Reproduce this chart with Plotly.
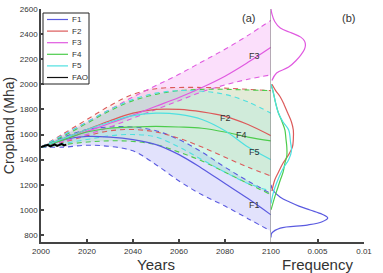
import plotly.graph_objects as go

# ---------------- data ----------------
years = [2000, 2010, 2020, 2030, 2040, 2050, 2060, 2070, 2080, 2090, 2100]

scenarios = ["F1", "F2", "F3", "F4", "F5"]

f1_mid = [1500, 1560, 1585, 1580, 1560, 1520, 1440, 1330, 1210, 1090, 960]
f1_up = [1500, 1580, 1640, 1660, 1660, 1630, 1560, 1460, 1340, 1230, 1130]
f1_lo = [1500, 1500, 1515, 1505, 1470, 1360, 1230, 1120, 1030, 930, 830]

f2_mid = [1500, 1570, 1640, 1710, 1770, 1800, 1800, 1780, 1745, 1680, 1590]
f2_up = [1500, 1610, 1720, 1830, 1920, 1965, 1975, 1975, 1970, 1960, 1950]
f2_lo = [1500, 1540, 1590, 1630, 1640, 1620, 1570, 1500, 1420, 1340, 1270]

f3_mid = [1500, 1560, 1625, 1690, 1755, 1825, 1895, 1975, 2065, 2175, 2295]
f3_up = [1500, 1600, 1700, 1800, 1900, 1990, 2080, 2180, 2280, 2390, 2510]
f3_lo = [1500, 1545, 1600, 1660, 1730, 1800, 1870, 1940, 1995, 2040, 2075]

f4_mid = [1500, 1560, 1620, 1650, 1660, 1665, 1660, 1650, 1620, 1580, 1550]
f4_up = [1500, 1590, 1690, 1790, 1870, 1920, 1950, 1960, 1960, 1955, 1950]
f4_lo = [1500, 1520, 1540, 1550, 1545, 1520, 1460, 1390, 1300, 1210, 1120]

f5_mid = [1500, 1570, 1640, 1700, 1750, 1770, 1760, 1720, 1630, 1500, 1400]
f5_up = [1500, 1600, 1700, 1800, 1880, 1930, 1950, 1945, 1920, 1860, 1770]
f5_lo = [1500, 1530, 1560, 1590, 1600, 1580, 1500, 1400, 1300, 1210, 1150]

fao_years = [2000, 2001, 2002, 2003, 2004, 2005, 2006, 2007, 2008, 2009, 2010, 2011]
fao_vals = [1500, 1505, 1510, 1518, 1506, 1515, 1522, 1510, 1520, 1526, 1514, 1520]

# frequency distributions of cropland in 2100 (panel b)
f1_kde_y = [780, 816, 855, 879, 905, 935, 965, 999, 1030, 1062, 1100, 1158, 1200]
f1_kde_f = [0.0, 0.0001, 0.001, 0.0039, 0.0055, 0.0061, 0.0055, 0.0042, 0.003, 0.002, 0.001, 0.0002, 0.0]
f2_kde_y = [1150, 1238, 1300, 1373, 1440, 1500, 1560, 1636, 1700, 1771, 1840, 1899, 1950, 2000]
f2_kde_f = [0.0001, 0.0004, 0.0008, 0.0013, 0.0019, 0.0023, 0.0024, 0.0024, 0.0022, 0.0018, 0.0014, 0.0010, 0.0005, 0.0001]
f3_kde_y = [2030, 2090, 2137, 2190, 2233, 2280, 2312, 2345, 2376, 2410, 2448, 2500, 2560, 2600]
f3_kde_f = [0.0001, 0.0006, 0.0019, 0.0027, 0.0032, 0.0036, 0.0037, 0.0036, 0.0032, 0.0022, 0.0010, 0.0004, 0.0001, 0.0]
f4_kde_y = [1000, 1102, 1170, 1238, 1300, 1373, 1430, 1500, 1570, 1636, 1700, 1771, 1850, 1950, 2000]
f4_kde_f = [0.0, 0.0004, 0.0007, 0.0010, 0.0013, 0.0015, 0.0017, 0.0017, 0.0016, 0.0015, 0.0012, 0.0008, 0.0005, 0.0002, 0.0]
f5_kde_y = [1050, 1150, 1250, 1330, 1400, 1470, 1540, 1636, 1700, 1771, 1850, 1950, 2000]
f5_kde_f = [0.0, 0.0003, 0.0008, 0.0013, 0.0019, 0.0022, 0.0021, 0.0019, 0.0013, 0.0008, 0.0005, 0.0002, 0.0]

year_ticks = [2000, 2020, 2040, 2060, 2080, 2100]
freq_ticks = [0.005, 0.01]
freq_tick_text = ["0.005", "0.01"]
crop_ticks = [800, 1000, 1200, 1400, 1600, 1800, 2000, 2200, 2400, 2600]

# ---------------- styling ----------------
line_colors = {"F1": "#5a5ae0", "F2": "#dc5a5a", "F3": "#e05ae0", "F4": "#4ccc4c", "F5": "#4ee0e0"}
fill_colors = {
    "F1": "rgba(125,125,240,0.22)",
    "F2": "rgba(225,150,120,0.14)",
    "F3": "rgba(235,110,235,0.22)",
    "F4": "rgba(110,215,110,0.17)",
    "F5": "rgba(110,235,235,0.16)",
}

series = {
    "F1": (f1_mid, f1_up, f1_lo, f1_kde_y, f1_kde_f),
    "F2": (f2_mid, f2_up, f2_lo, f2_kde_y, f2_kde_f),
    "F3": (f3_mid, f3_up, f3_lo, f3_kde_y, f3_kde_f),
    "F4": (f4_mid, f4_up, f4_lo, f4_kde_y, f4_kde_f),
    "F5": (f5_mid, f5_up, f5_lo, f5_kde_y, f5_kde_f),
}

fig = go.Figure()

# fills
for s in scenarios:
    mid, up, lo, _, _ = series[s]
    fig.add_trace(go.Scatter(
        x=years + years[::-1], y=up + lo[::-1], fill="toself",
        fillcolor=fill_colors[s], line=dict(width=0), mode="lines",
        hoverinfo="skip", showlegend=False, xaxis="x", yaxis="y"))

# dashed bounds and medians
for s in scenarios:
    mid, up, lo, _, _ = series[s]
    for b in (up, lo):
        fig.add_trace(go.Scatter(
            x=years, y=b, mode="lines", line_shape="spline",
            line=dict(color=line_colors[s], width=1.1, dash="5px,4px"),
            showlegend=False, xaxis="x", yaxis="y"))
for s in scenarios:
    mid, up, lo, _, _ = series[s]
    fig.add_trace(go.Scatter(
        x=years, y=mid, mode="lines", name=s, line_shape="spline",
        line=dict(color=line_colors[s], width=1.2),
        showlegend=False, xaxis="x", yaxis="y"))

fig.add_trace(go.Scatter(
    x=fao_years, y=fao_vals, mode="lines", name="FAO",
    line=dict(color="black", width=2), showlegend=False, xaxis="x", yaxis="y"))

# panel b: frequency curves
for s in scenarios:
    _, _, _, ky, kf = series[s]
    fig.add_trace(go.Scatter(
        x=kf, y=ky, mode="lines", line_shape="spline", name=s + " freq",
        line=dict(color=line_colors[s], width=1.2),
        showlegend=False, xaxis="x2", yaxis="y"))

# ---------------- layout ----------------
W, H = 383, 273
ML, MR, MT, MB = 41, 19, 9, 31
PW, PH = W - ML - MR, H - MT - MB
split = 230 / PW


def px(xp):
    return (xp - ML) / PW


def py(yp):
    return (H - MB - yp) / PH


FONT = "Arial, Liberation Sans, sans-serif"
tick_font = dict(family=FONT, size=8, color="#333")
axis_col = "#444"

fig.update_layout(
    width=W, height=H, margin=dict(l=ML, r=MR, t=MT, b=MB, autoexpand=False),
    paper_bgcolor="white", plot_bgcolor="white",
    showlegend=False,
    xaxis=dict(domain=[0, split], range=[2000, 2100], tickvals=year_ticks,
               ticks="inside", ticklen=3, tickcolor=axis_col, tickwidth=1.5,
               showline=True, linecolor=axis_col, linewidth=2,
               showgrid=False, zeroline=False, tickfont=tick_font, automargin=False,
               title=dict(text="Years", font=dict(family=FONT, size=15, color="#333"), standoff=8),
               anchor="y"),
    xaxis2=dict(domain=[split, 1], range=[0, 0.01], tickvals=freq_ticks, ticktext=freq_tick_text,
                ticks="inside", ticklen=3, tickcolor=axis_col, tickwidth=1.5,
                showline=True, linecolor=axis_col, linewidth=2,
                showgrid=False, zeroline=False, tickfont=tick_font, automargin=False,
                title=dict(text="Frequency", font=dict(family=FONT, size=15, color="#333"), standoff=8),
                anchor="y"),
    yaxis=dict(range=[744, 2600], tickvals=crop_ticks,
               ticks="inside", ticklen=3, tickcolor=axis_col, tickwidth=1.5,
               showline=True, linecolor=axis_col, linewidth=1.5,
               showgrid=False, zeroline=False, tickfont=tick_font, automargin=False,
               title=dict(text="Cropland (Mha)", font=dict(family=FONT, size=14, color="#333"), standoff=2),
               anchor="x"),
)

# separator line at 2100 (left edge of panel b)
fig.add_shape(type="line", xref="x", yref="paper", x0=2100, x1=2100, y0=0, y1=1,
              line=dict(color="#888", width=1.2))

ann_font = dict(family=FONT, size=9, color="#333")
# curve labels
label_pos = {"F1": (2093, 1035), "F2": (2080, 1735), "F3": (2093, 2225), "F4": (2087, 1595), "F5": (2093, 1462)}
for s in scenarios:
    lx, ly = label_pos[s]
    fig.add_annotation(x=lx, y=ly, xref="x", yref="y", text=s, showarrow=False, font=ann_font)

fig.add_annotation(x=px(248), y=py(10), xref="paper", yref="paper", text="(a)", showarrow=False,
                   font=dict(family=FONT, size=11, color="#333"))
fig.add_annotation(x=px(357), y=py(10), xref="paper", yref="paper", text="(b)", showarrow=False,
                   font=dict(family=FONT, size=11, color="#333"))

# legend box (drawn manually to match the compact original)
fig.add_shape(type="rect", xref="paper", yref="paper", x0=px(43), x1=px(89), y0=py(84), y1=py(13),
              line=dict(color="#222", width=1), fillcolor="white", layer="above")
legend_items = scenarios + ["FAO"]
legend_colors = dict(line_colors, FAO="#111")
for i, s in enumerate(legend_items):
    yy = 19.5 + i * 11.6
    fig.add_shape(type="line", xref="paper", yref="paper", x0=px(47), x1=px(68), y0=py(yy), y1=py(yy),
                  line=dict(color=legend_colors[s], width=1.2), layer="above")
    fig.add_annotation(x=px(69.5), y=py(yy), xref="paper", yref="paper", text=s, showarrow=False,
                       xanchor="left", yanchor="middle",
                       font=dict(family=FONT, size=8, color="#333"))

fig.write_html("out.html")
